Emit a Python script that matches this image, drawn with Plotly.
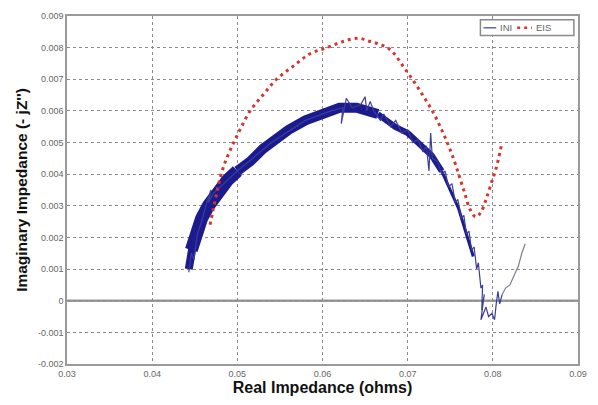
import plotly.graph_objects as go

# ---- data ----
x_ticks = [0.03, 0.04, 0.05, 0.06, 0.07, 0.08, 0.09]
x_tick_text = ["0.03", "0.04", "0.05", "0.06", "0.07", "0.08", "0.09"]
y_ticks = [-0.002, -0.001, 0, 0.001, 0.002, 0.003, 0.004, 0.005, 0.006, 0.007, 0.008, 0.009]
y_tick_text = ["-0.002", "-0.001", "0", "0.001", "0.002", "0.003", "0.004", "0.005",
               "0.006", "0.007", "0.008", "0.009"]

# EIS (red dotted)
eis_x = [0.0468, 0.0471, 0.0475, 0.0480, 0.0486, 0.0494, 0.0503, 0.0515, 0.0530, 0.0546,
         0.0565, 0.0585, 0.0605, 0.0625, 0.0642, 0.0655, 0.0668, 0.0681, 0.0695, 0.0708,
         0.0720, 0.0731, 0.0740, 0.0748, 0.0755, 0.0761, 0.0767, 0.0773, 0.0780, 0.0786,
         0.0792, 0.0798, 0.0804, 0.0810]
eis_y = [0.0024, 0.0028, 0.0033, 0.0039, 0.0044, 0.0049, 0.0054, 0.0060, 0.0065, 0.0070,
         0.0074, 0.0078, 0.0080, 0.0082, 0.0083, 0.0082, 0.0081, 0.0079, 0.0074, 0.0069,
         0.0064, 0.0059, 0.0054, 0.0049, 0.0044, 0.0039, 0.0034, 0.0029, 0.00265, 0.0028,
         0.0032, 0.0037, 0.0042, 0.0049]

# INI dense band (centre line of the noisy measurement cloud), by section
band0_x = [0.0443, 0.0448]
band0_y = [0.0010, 0.0018]
band1_x = [0.0446, 0.0452, 0.0458, 0.0466, 0.0476, 0.0488, 0.0500]
band1_y = [0.0016, 0.0022, 0.0026, 0.0030, 0.0034, 0.0038, 0.0041]
band2_x = [0.0500, 0.0515, 0.0530, 0.0545, 0.0560, 0.0580, 0.0600, 0.0620, 0.0640, 0.0655, 0.0665]
band2_y = [0.0041, 0.0044, 0.0048, 0.0051, 0.0054, 0.0057, 0.0059, 0.0061, 0.0061, 0.0060, 0.0059]
band3_x = [0.0665, 0.0675, 0.0685, 0.0700, 0.0715, 0.0728, 0.0740]
band3_y = [0.0059, 0.0057, 0.0055, 0.0053, 0.0049, 0.0046, 0.0041]
band4_x = [0.0740, 0.0750, 0.0760, 0.0769, 0.0777]
band4_y = [0.0041, 0.0035, 0.0029, 0.0021, 0.0014]

# INI thin trace (spikes and the jagged descent)
ini_x = [0.0443, 0.0446, 0.0449, 0.0453, 0.0458, 0.0463, 0.0469, 0.0466, 0.0472, 0.0480,
         0.0500, 0.0540, 0.0580, 0.0610, 0.0624, 0.0622, 0.0626, 0.0628, 0.0635, 0.0645,
         0.0650, 0.0652, 0.0656, 0.0660, 0.0668, 0.0672, 0.0680, 0.0686, 0.0693, 0.0700,
         0.0706, 0.0712, 0.0718, 0.0722, 0.0725, 0.0727, 0.0729, 0.0735, 0.0740, 0.0744,
         0.0748, 0.0752, 0.0756, 0.0759, 0.0763, 0.0766, 0.0769, 0.0772, 0.0775, 0.0778,
         0.0781, 0.0783, 0.0786, 0.0788, 0.0787, 0.0790, 0.0786, 0.0792, 0.0795, 0.0799,
         0.0802, 0.0804, 0.0806, 0.0808, 0.0811]
ini_y = [0.0009, 0.0015, 0.0013, 0.0021, 0.0025, 0.0030, 0.0035, 0.0031, 0.0034, 0.0036,
         0.0041, 0.0050, 0.0057, 0.0060, 0.0061, 0.0056, 0.0062, 0.0064, 0.0061, 0.0062,
         0.00645, 0.0060, 0.0063, 0.0060, 0.0057, 0.0059, 0.0055, 0.0057, 0.0053, 0.0054,
         0.0050, 0.0051, 0.0047, 0.0049, 0.0041, 0.0053, 0.0045, 0.0044, 0.0040, 0.0041,
         0.0036, 0.0037, 0.0031, 0.0032, 0.0026, 0.0027, 0.0021, 0.0022, 0.0016, 0.0017,
         0.0010, 0.0012, 0.0004, 0.0005, -0.0003, 0.0002, -0.0006, -0.0002, -0.0005, -0.0004,
         -0.0006, -0.0001, 0.0003, -0.0001, 0.0002]
tail_x = [0.0811, 0.0815, 0.0820, 0.0825, 0.0830, 0.0834, 0.0838]
tail_y = [0.0002, 0.0004, 0.0005, 0.0008, 0.0011, 0.0015, 0.0018]

series_names = ["INI", "EIS"]

NAVY = "#1b1b8e"
INI_COLOR = "#3c3c9c"
EIS_COLOR = "#d9342b"
FONT = "Liberation Sans, Arial"

fig = go.Figure()
for bx, by, w in [(band0_x, band0_y, 8), (band1_x, band1_y, 13), (band2_x, band2_y, 10),
                  (band3_x, band3_y, 6), (band4_x, band4_y, 3)]:
    fig.add_trace(go.Scatter(x=bx, y=by, mode="lines", showlegend=False, hoverinfo="skip",
                             line=dict(color=NAVY, width=w)))
fig.add_trace(go.Scatter(x=ini_x, y=ini_y, mode="lines", name=series_names[0], showlegend=False,
                         line=dict(color=INI_COLOR, width=1.2)))
fig.add_trace(go.Scatter(x=tail_x, y=tail_y, mode="lines", showlegend=False,
                         line=dict(color="#7d7d95", width=1.2)))
fig.add_trace(go.Scatter(x=eis_x, y=eis_y, mode="lines", name=series_names[1], showlegend=False,
                         line_shape="spline",
                         line=dict(color=EIS_COLOR, width=3, dash="3px,4px")))

axis_common = dict(showgrid=True, gridcolor="#8a8a8a", griddash="dot", gridwidth=1,
                   showline=True, linecolor="#9a9a9a", linewidth=1.5, mirror=True,
                   ticks="", tickfont=dict(family=FONT, size=9, color="#666"),
                   zeroline=False)
fig.update_layout(
    width=598, height=405,
    margin=dict(l=67, r=12, t=11, b=39),
    paper_bgcolor="white", plot_bgcolor="white",
    xaxis=dict(range=[0.03, 0.09], tickvals=x_ticks, ticktext=x_tick_text,
               title=dict(text="<b>Real Impedance (ohms)</b>", standoff=4,
                          font=dict(family=FONT, size=16, color="#111")),
               **axis_common),
    yaxis=dict(range=[-0.002, 0.009], tickvals=y_ticks, ticktext=y_tick_text,
               title=dict(text="<b>Imaginary Impedance (- jZ'')</b>", standoff=6,
                          font=dict(family=FONT, size=15.5, color="#111")),
               **axis_common),
    showlegend=False,
)
# zero line
fig.add_shape(type="line", xref="paper", x0=0, x1=1, yref="y", y0=0, y1=0,
              line=dict(color="#999", width=2.5), layer="below")
# compact legend box (drawn like the original's small legend)
fig.add_shape(type="rect", xref="paper", yref="paper", x0=0.809, x1=0.992, y0=0.944, y1=0.989,
              line=dict(color="#8a8a8a", width=1.5), fillcolor="white", layer="above")
fig.add_shape(type="line", xref="paper", yref="paper", x0=0.815, x1=0.840, y0=0.966, y1=0.966,
              line=dict(color=INI_COLOR, width=1.2), layer="above")
fig.add_shape(type="line", xref="paper", yref="paper", x0=0.881, x1=0.910, y0=0.966, y1=0.966,
              line=dict(color=EIS_COLOR, width=2.5, dash="3px,4px"), layer="above")
fig.add_annotation(xref="paper", yref="paper", x=0.843, y=0.966, xanchor="left", yanchor="middle",
                   text=series_names[0], showarrow=False, font=dict(family=FONT, size=9.5, color="#666"))
fig.add_annotation(xref="paper", yref="paper", x=0.913, y=0.966, xanchor="left", yanchor="middle",
                   text=series_names[1], showarrow=False, font=dict(family=FONT, size=9.5, color="#666"))
fig.write_html("out.html")
